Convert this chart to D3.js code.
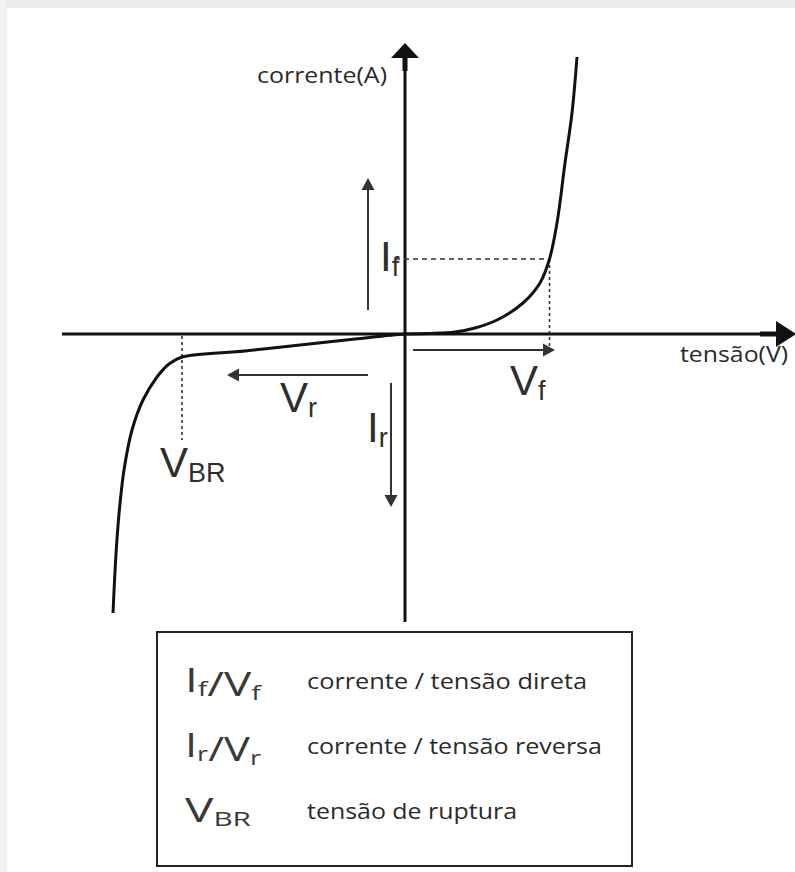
<!DOCTYPE html>
<html>
<head>
<meta charset="utf-8">
<script src="https://cdn.jsdelivr.net/npm/d3@7"></script>
<style>
html,body{margin:0;padding:0;background:#fff;}
svg{display:block;}
</style>
</head>
<body>
<script>
// ---------- data (voltage units, current units) ----------
const forwardV = [0, 2.5, 5, 7, 9.2, 11.8, 13.5, 14.45, 15.2, 16, 16.7, 17.2];
const forwardI = [0, 0.05, 0.2, 0.6, 1.4, 3.1, 5.1, 7.5, 11.1, 17.1, 22.1, 27.7];
const reverseV = [-29.2, -28.9, -28.6, -28.1, -27.3, -26.2, -24.8, -23.6, -22.3, -16.0, -10.5, -5.0];
const reverseI = [-27.9, -22.0, -18.0, -13.6, -9.6, -6.6, -4.3, -3.0, -2.3, -1.7, -1.1, -0.5];

const axisLabels = ["corrente(A)", "tensão(V)"];
const opPoint = {If: 7.5, Vf: 14.45, VBR: -22.3, IBR: -2.3};

// annotation arrows: [x1, y1] -> [x2, y2](tip), data units
const arrowNames = ["If", "Vf", "Vr", "Ir"];
const arrowFrom = [[-3.7, 2.4], [0.8, -1.6], [-3.7, -4.1], [-1.4, -4.9]];
const arrowTo   = [[-3.7, 15.6], [15.0, -1.6], [-17.8, -4.1], [-1.4, -17.3]];

// symbol labels: main letter, subscript, anchor in data units
const symMain = ["I", "V", "V", "I", "V"];
const symSub  = ["f", "f", "r", "r", "BR"];
const symPos  = [[-2.5, 6.3], [10.5, -6.1], [-12.5, -7.8], [-3.8, -10.8], [-24.5, -14.3]];

// legend
const legendSymbols = [[["I","f"],["/",""],["V","f"]], [["I","r"],["/",""],["V","r"]], [["V","BR"]]];
const legendSymLens = [76, 76, 66];
const legendTexts = ["corrente / tensão direta", "corrente / tensão reversa", "tensão de ruptura"];
const legendTextLens = [280, 295, 210];

// ---------- layout ----------
const W = 795, H = 872;
const svg = d3.select("body").append("svg").attr("width", W).attr("height", H);

// card shadow edges
svg.append("rect").attr("x",0).attr("y",0).attr("width",W).attr("height",8).attr("fill","#ececec");
svg.append("rect").attr("x",0).attr("y",0).attr("width",7).attr("height",H).attr("fill","#f1f1f1");
svg.append("rect").attr("x",7).attr("y",8).attr("width",W-7).attr("height",H-8).attr("fill","#fff");

const x = d3.scaleLinear().domain([-34.3, 38.5]).range([62, 790]);
const y = d3.scaleLinear().domain([-28.8, 29.1]).range([622, 43]);

const ink = "#111";

// axes
svg.append("line").attr("x1", x(-34.3)).attr("x2", x(37.5)).attr("y1", y(0)).attr("y2", y(0))
  .attr("stroke", ink).attr("stroke-width", 3);
svg.append("line").attr("x1", x(0)).attr("x2", x(0)).attr("y1", y(-28.8)).attr("y2", y(27.8))
  .attr("stroke", ink).attr("stroke-width", 3);
svg.append("line").attr("x1", x(0)).attr("x2", x(0)).attr("y1", y(26.3)).attr("y2", y(27.8))
  .attr("stroke", ink).attr("stroke-width", 5);
svg.append("line").attr("x1", x(35.5)).attr("x2", x(37.5)).attr("y1", y(0)).attr("y2", y(0))
  .attr("stroke", ink).attr("stroke-width", 5);
const x0 = x(0), y0 = y(0);
svg.append("path").attr("fill", ink)
  .attr("d", `M${x0},${y(29.1)} L${x0+14},${y(27.6)} L${x0-14},${y(27.6)} Z`);
svg.append("path").attr("fill", ink)
  .attr("d", `M${x(39.1)},${y0} L${x(37.1)},${y0-13} L${x(37.1)},${y0+13} Z`);

function stretchText(sel, len){ if(len) sel.attr("textLength", len).attr("lengthAdjust","spacingAndGlyphs"); return sel; }
stretchText(svg.append("text").attr("x", x(-14.8)).attr("y", y(25.1))
  .attr("font-family","'Open Sans', sans-serif").attr("font-size",21).attr("fill","#2a2a2a")
  .text(axisLabels[0]), 130);
stretchText(svg.append("text").attr("x", x(27.5)).attr("y", y(-2.8))
  .attr("font-family","'Open Sans', sans-serif").attr("font-size",21).attr("fill","#2a2a2a")
  .text(axisLabels[1]), 108);

// dashed guide lines
svg.append("line").attr("x1", x(-1.0)).attr("x2", x(opPoint.Vf)).attr("y1", y(opPoint.If)).attr("y2", y(opPoint.If))
  .attr("stroke","#333").attr("stroke-width",1.6).attr("stroke-dasharray","5,4");
svg.append("line").attr("x1", x(opPoint.Vf)).attr("x2", x(opPoint.Vf)).attr("y1", y(opPoint.If)).attr("y2", y(-1.9))
  .attr("stroke","#333").attr("stroke-width",1.6).attr("stroke-dasharray","3,3");
svg.append("line").attr("x1", x(opPoint.VBR)).attr("x2", x(opPoint.VBR)).attr("y1", y(-0.2)).attr("y2", y(-10.6))
  .attr("stroke","#333").attr("stroke-width",1.6).attr("stroke-dasharray","3,3");

// curve
const pts = reverseV.map((v,i)=>[v, reverseI[i]]).concat(forwardV.map((v,i)=>[v, forwardI[i]]));
svg.append("path").datum(pts)
  .attr("fill","none").attr("stroke", ink).attr("stroke-width", 3)
  .attr("d", d3.line().x(d=>x(d[0])).y(d=>y(d[1])).curve(d3.curveCatmullRom.alpha(0.5)));

// annotation arrows
const arrowColor = "#333";
arrowNames.forEach((n,i)=>{
  const [a,b] = arrowFrom[i], [c,d] = arrowTo[i];
  const X1=x(a), Y1=y(b), X2=x(c), Y2=y(d);
  const ang = Math.atan2(Y2-Y1, X2-X1);
  const L = 12, Wd = 6.5;
  const bx = X2 - L*Math.cos(ang), by = Y2 - L*Math.sin(ang);
  svg.append("line").attr("x1",X1).attr("y1",Y1).attr("x2",bx).attr("y2",by)
    .attr("stroke",arrowColor).attr("stroke-width",2);
  const px = -Math.sin(ang)*Wd, py = Math.cos(ang)*Wd;
  svg.append("path").attr("fill",arrowColor)
    .attr("d",`M${X2},${Y2} L${bx+px},${by+py} L${bx-px},${by-py} Z`);
});

// symbol labels
symMain.forEach((m,i)=>{
  const t = svg.append("text").attr("x", x(symPos[i][0])).attr("y", y(symPos[i][1]))
    .attr("font-family","'Liberation Sans', Arial, sans-serif").attr("fill","#2e2e2e").attr("font-size",42);
  t.append("tspan").text(m);
  t.append("tspan").attr("font-size",27).attr("dy",5).text(symSub[i]);
});

// legend box
svg.append("rect").attr("x",157).attr("y",632).attr("width",475).attr("height",234)
  .attr("fill","none").attr("stroke","#222").attr("stroke-width",2);

const rowBase = [689, 754, 819];
legendTexts.forEach((s,i)=>{
  const g = svg.append("text").attr("x",185).attr("y",rowBase[i]+3)
    .attr("font-family","'Open Sans', sans-serif").attr("fill","#3a3a3a").attr("font-size",32);
  legendSymbols[i].forEach(([m,sb])=>{
    g.append("tspan").attr("font-size",32).attr("dy", 0).text(m);
    if(sb){ g.append("tspan").attr("font-size",20).attr("dy",4).text(sb);
            g.append("tspan").attr("font-size",32).attr("dy",-4).text(""); }
  });
  stretchText(g, legendSymLens[i]);
  stretchText(svg.append("text").attr("x",307).attr("y",rowBase[i])
    .attr("font-family","'Open Sans', sans-serif").attr("font-size",21).attr("fill","#2a2a2a")
    .text(s), legendTextLens[i]);
});
</script>
</body>
</html>
